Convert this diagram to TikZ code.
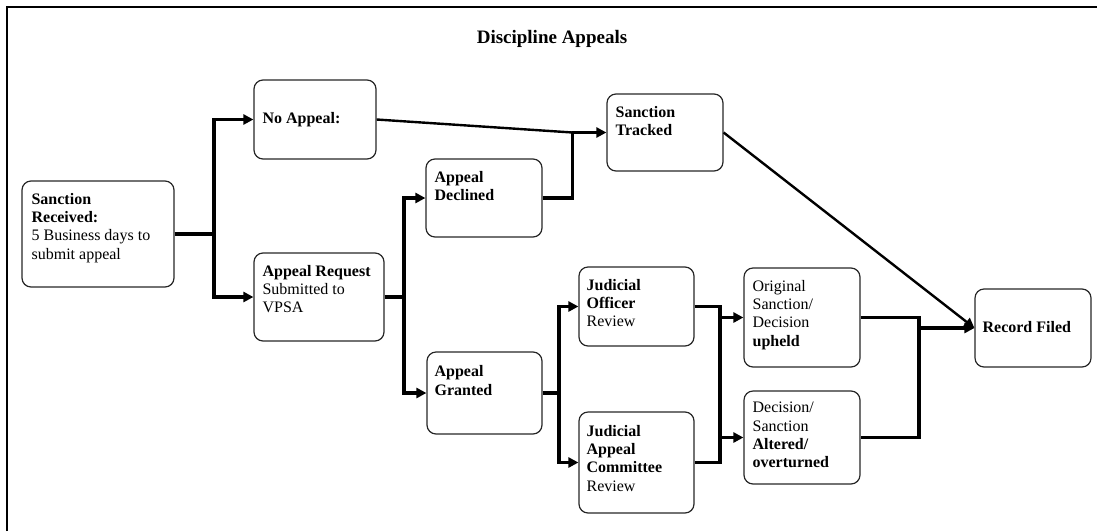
\documentclass[tikz,border=0pt]{standalone}
\usepackage{fontspec}
\setmainfont{Liberation Serif}
\usetikzlibrary{arrows.meta,positioning}
\tikzset{
  stage/.style={draw=black!85, line width=1.2pt, rounded corners=9pt, inner sep=0pt},
  stagetext/.style={anchor=north west, inner sep=0pt, align=left, font=\fontsize{16}{18.3}\selectfont},
  flow/.style={line width=3.8pt},
  thinflow/.style={line width=2.4pt},
  tip/.style={-{Triangle[length=10pt,width=10pt]}}
}
\begin{document}
\begin{tikzpicture}[x=1pt,y=-1pt]
        \useasboundingbox (0,0) rectangle (1097,531);
        % Frame and title
        \draw[line width=2pt] (7,531) -- (7,7) -- (1097,7);
        \node[font=\fontsize{19}{22}\selectfont\bfseries, anchor=base] (title) at (552,43) {Discipline Appeals};

        % Boxes
        \foreach \n/\x/\y/\w/\h in {received/98/234/152/106, noappeal/315/119.5/122/79,
            request/319/297/130/88, declined/484/198/116/78, granted/484.5/393/115/82,
            tracked/665/132.5/116/77, officer/636.5/306.5/115/79, committee/636.5/462.5/115/101,
            upheld/802/317.5/116/99, altered/802/437.5/116/93, filed/1033/328/116/78} {
            \node[stage, minimum width=\w pt, minimum height=\h pt] (\n) at (\x,\y) {};
        }

        % Box texts
        \node[stagetext] (receivedtext) at ([shift={(10,12.5)}]received.north west) {\textbf{Sanction}\\\textbf{Received:}\\5 Business days to\\submit appeal};
        \node[stagetext] (noappealtext) at ([shift={(9,33)}]noappeal.north west) {\textbf{No Appeal:}};
        \node[stagetext] (requesttext) at ([shift={(9,12.5)}]request.north west) {\textbf{Appeal Request}\\Submitted to\\VPSA};
        \node[stagetext] (declinedtext) at ([shift={(9,12.5)}]declined.north west) {\textbf{Appeal}\\\textbf{Declined}};
        \node[stagetext] (grantedtext) at ([shift={(8,14)}]granted.north west) {\textbf{Appeal}\\\textbf{Granted}};
        \node[stagetext] (trackedtext) at ([shift={(9,12.5)}]tracked.north west) {\textbf{Sanction}\\\textbf{Tracked}};
        \node[stagetext] (officertext) at ([shift={(8,12.5)}]officer.north west) {\textbf{Judicial}\\\textbf{Officer}\\Review};
        \node[stagetext] (committeetext) at ([shift={(8,13.5)}]committee.north west) {\textbf{Judicial}\\\textbf{Appeal}\\\textbf{Committee}\\Review};
        \node[stagetext] (upheldtext) at ([shift={(9,12.5)}]upheld.north west) {Original\\Sanction/\\Decision\\\textbf{upheld}};
        \node[stagetext] (alteredtext) at ([shift={(9,11.5)}]altered.north west) {Decision/\\Sanction\\\textbf{Altered/}\\\textbf{overturned}};
        \node[stagetext] (filedtext) at ([shift={(8,33)}]filed.north west) {\textbf{Record Filed}};

        % Split points
        \coordinate (split1) at ([xshift=39pt]received.east);
        \coordinate (split2) at ([xshift=19pt]request.east);
        \coordinate (split3) at ([xshift=16pt]granted.east);
        \coordinate (merge1) at ([xshift=-34pt]tracked.west);
        \coordinate (bus1) at ([xshift=25pt]officer.east);
        \coordinate (bus2) at ([xshift=58pt]upheld.east);

        % Connections
        \draw[flow] (received.east) -- (split1);
        \draw[flow,tip] (split1) |- (noappeal.west);
        \draw[flow,tip] (split1) |- (request.west);

        \draw[thinflow] (noappeal.east) -- (merge1);
        \draw[flow] (declined.east) -| (merge1);
        \draw[flow,tip] (merge1) -- (tracked.west);

        \draw[flow] (request.east) -- (split2);
        \draw[flow,tip] (split2) |- (declined.west);
        \draw[flow,tip] (split2) |- (granted.west);

        \draw[flow] (granted.east) -- (split3);
        \draw[flow,tip] (split3) |- (officer.west);
        \draw[flow,tip] (split3) |- (committee.west);

        \draw[flow] (officer.east) -- (bus1) -- (bus1 |- committee.east) -- (committee.east);
        \draw[flow,tip] (bus1 |- upheld.west) -- (upheld.west);
        \draw[flow,tip] (bus1 |- altered.west) -- (altered.west);

        \draw[flow] (upheld.east) -- (bus2) -- (bus2 |- altered.east) -- (altered.east);
        \draw[flow,tip] (bus2 |- filed.west) -- (filed.west);
        \draw[thinflow,tip] (tracked.east) -- (filed.west);
    \end{tikzpicture}
\end{document}
